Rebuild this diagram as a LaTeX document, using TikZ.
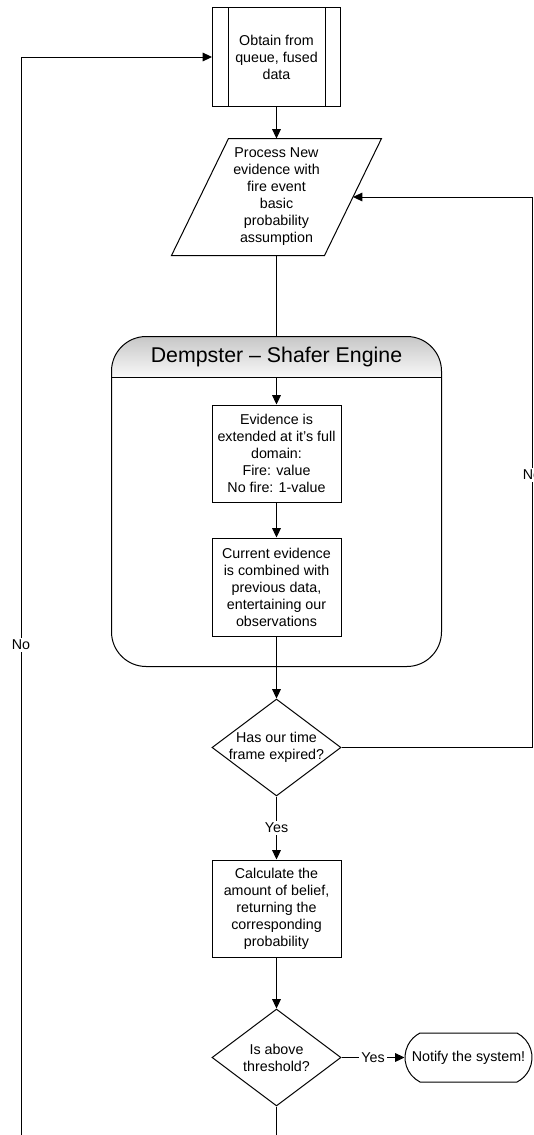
\documentclass[tikz,border=0pt]{standalone}
\usepackage{fontspec}
\setmainfont{Liberation Sans}
\usetikzlibrary{shapes.geometric,shapes.misc,arrows.meta}
\newcommand\pxl{0.75pt}
\begin{document}
\begin{tikzpicture}[x=0.75pt,y=-0.75pt,
  line width=0.75pt,
  >={Triangle[length=7pt,width=6.5pt]},
  txt/.style={font=\fontsize{10.7}{12.75}\selectfont, align=center},
  stepbox/.style={txt, draw, rectangle, inner sep=0pt, minimum width=129*\pxl, minimum height=97*\pxl},
  decision/.style={draw, diamond, inner sep=0pt, minimum width=129*\pxl, minimum height=97*\pxl},
  lbl/.style={txt, fill=white, inner sep=1.5pt},
]
\clip (0,0) rectangle (533,1135);

% predefined process: fetch from the queue
\node[stepbox, minimum width=128*\pxl, minimum height=99*\pxl] (top) at (276.5,57)
  {Obtain from\\queue, fused\\data};
\draw ([xshift=16*\pxl]top.north west) -- ([xshift=16*\pxl]top.south west);
\draw ([xshift=-16*\pxl]top.north east) -- ([xshift=-16*\pxl]top.south east);

% input/output parallelogram
\node[txt, inner sep=0pt, minimum width=152*\pxl, minimum height=116*\pxl] (par) at (276.5,197)
  {Process New\\evidence with\\fire event\\basic\\probability\\assumption};
\draw ([xshift=28.5*\pxl]par.north west) -- ([xshift=28.5*\pxl]par.north east)
   -- ([xshift=-28.5*\pxl]par.south east) -- ([xshift=-28.5*\pxl]par.south west) -- cycle;

% Dempster-Shafer engine container
\node[rectangle, inner sep=0pt, minimum width=329*\pxl, minimum height=329*\pxl] (engine) at (276.5,501.5) {};
\begin{scope}
  \clip[rounded corners=26pt] (engine.north west) rectangle (engine.south east);
  \shade[top color=black!22, bottom color=black!3]
    (engine.north west) rectangle ([yshift=-30pt]engine.north east);
\end{scope}
\draw[rounded corners=26pt] (engine.north west) rectangle (engine.south east);
\node[font=\fontsize{16}{19}\selectfont, inner sep=0pt, minimum width=329*\pxl, minimum height=40*\pxl]
  (title) at (276.5,357) {Dempster – Shafer Engine};
\draw (title.south west) -- (title.south east);

\node[stepbox] (ev) at (276.5,453.5)
  {Evidence is\\extended at it’s full\\domain:\\Fire: value\\No fire: 1-value};
\node[stepbox, minimum height=98*\pxl] (comb) at (276.5,587)
  {Current evidence\\is combined with\\previous data,\\entertaining our\\observations};

% decisions and result steps
\node[decision] (d1) at (276.5,747.5) {};
\node[txt, inner sep=0pt] (d1t) at (d1) {Has our time\\frame expired?};
\node[stepbox] (calc) at (276.5,908.5)
  {Calculate the\\amount of belief,\\returning the\\corresponding\\probability};
\node[decision] (d2) at (276.5,1057.5) {};
\node[txt, inner sep=0pt] (d2t) at (d2) {Is above\\threshold?};
\node[draw, rounded rectangle, rounded rectangle arc length=126, inner sep=0pt,
  minimum width=127*\pxl, minimum height=49*\pxl] (term) at (468.5,1057.5) {};
\node[txt, inner sep=0pt] (termt) at (term) {Notify the system!};

% connectors
\draw[->] (top) -- (par);
\draw (par.south) -- (engine.north);
\draw[->] (title) -- (ev);
\draw[->] (ev) -- (comb);
\draw[->] (comb) -- (d1);
\draw[->] (d1) -- node[lbl] (yes1) {Yes} (calc);
\draw[->] (calc) -- (d2);
\draw[->] (d2) -- node[lbl] (yes2) {Yes} (term);

\coordinate (rloop) at (532,747.5);
\draw[->] (d1.east) -- (rloop) |- (par.east);
\node[lbl] (noR) at (532,475) {No};

\coordinate (lloop) at (21,1170);
\draw[->] (d2.south) |- (lloop) |- (top.west);
\node[lbl] (noL) at (21,645) {No};
\end{tikzpicture}
\end{document}
